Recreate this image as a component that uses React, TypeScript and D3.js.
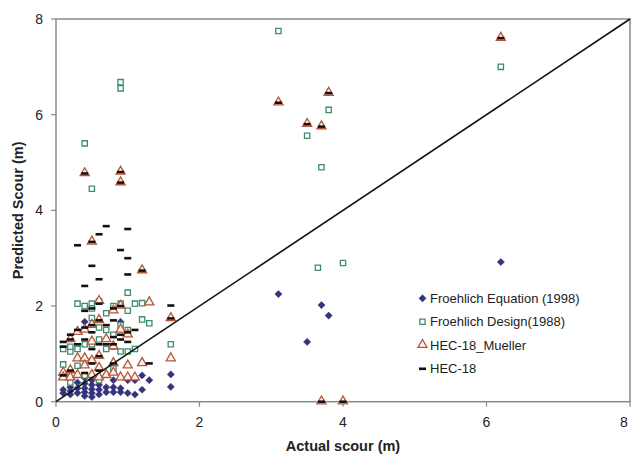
import React from "react";
import * as d3 from "d3";

const xTicks = [0, 2, 4, 6, 8];
const yTicks = [0, 2, 4, 6, 8];

const froehlichEquation: [number, number][] = [
  [0.1, 0.18], [0.1, 0.25], [0.2, 0.15], [0.2, 0.22], [0.2, 0.3], [0.3, 0.18], [0.3, 0.28], [0.3, 0.4],
  [0.4, 0.12], [0.4, 0.2], [0.4, 0.28], [0.4, 0.38], [0.4, 0.5], [0.4, 1.67], [0.5, 0.1], [0.5, 0.18],
  [0.5, 0.26], [0.5, 0.35], [0.5, 0.45], [0.5, 0.55], [0.6, 0.15], [0.6, 0.25], [0.6, 0.35], [0.6, 0.5],
  [0.7, 0.2], [0.7, 0.3], [0.8, 0.2], [0.8, 0.3], [0.8, 0.45], [0.9, 0.2], [0.9, 0.28], [0.9, 1.67],
  [1.0, 0.18], [1.0, 0.45], [1.1, 0.15], [1.1, 0.45], [1.2, 0.25], [1.2, 0.55], [1.3, 0.45],
  [1.6, 0.31], [1.6, 0.57],
  [3.1, 2.25], [3.5, 1.25], [3.7, 2.02], [3.8, 1.8], [6.2, 2.92],
];

const froehlichDesign: [number, number][] = [
  [0.1, 1.1], [0.1, 0.78], [0.2, 1.05], [0.2, 1.15], [0.2, 0.4], [0.3, 2.05], [0.3, 1.1], [0.3, 0.75],
  [0.4, 2.0], [0.4, 1.2], [0.4, 0.55], [0.4, 5.4], [0.5, 2.05], [0.5, 1.95], [0.5, 1.75], [0.5, 1.2],
  [0.5, 0.85], [0.5, 4.45], [0.6, 2.1], [0.6, 1.55], [0.6, 1.3], [0.6, 0.45], [0.7, 1.85], [0.7, 1.5],
  [0.7, 1.1], [0.8, 2.0], [0.8, 1.4], [0.8, 1.15], [0.8, 0.7], [0.9, 2.05], [0.9, 1.6], [0.9, 1.05],
  [0.9, 6.55], [0.9, 6.68], [1.0, 2.28], [1.0, 1.9], [1.0, 1.5], [1.0, 1.05], [1.1, 2.05], [1.1, 1.1],
  [1.2, 2.06], [1.2, 1.72], [1.3, 1.64], [1.6, 1.2],
  [3.1, 7.75], [3.5, 5.56], [3.8, 6.1], [3.7, 4.9], [3.65, 2.8], [4.0, 2.9], [6.2, 7.0],
];

const hecMueller: [number, number][] = [
  [0.1, 0.6], [0.1, 0.5], [0.2, 0.65], [0.2, 0.5], [0.2, 1.3], [0.3, 1.45], [0.3, 0.55], [0.3, 0.9],
  [0.4, 1.5], [0.4, 0.9], [0.4, 0.75], [0.4, 4.77], [0.5, 1.6], [0.5, 1.25], [0.5, 0.85], [0.5, 0.55],
  [0.5, 3.34], [0.6, 2.1], [0.6, 1.7], [0.6, 0.95], [0.6, 0.7], [0.6, 0.5], [0.7, 1.3], [0.7, 0.55],
  [0.8, 1.9], [0.8, 1.15], [0.8, 0.8], [0.8, 0.6], [0.9, 2.0], [0.9, 1.5], [0.9, 0.5], [0.9, 4.8],
  [0.9, 4.58], [1.0, 1.4], [1.0, 0.75], [1.0, 0.5], [1.1, 0.5], [1.2, 0.8], [1.2, 2.74], [1.3, 2.07],
  [1.6, 1.74], [1.6, 0.9],
  [3.1, 6.25], [3.8, 6.45], [3.5, 5.8], [3.7, 5.75], [6.2, 7.6], [3.7, 0], [4.0, 0],
];

const hec18: [number, number][] = [
  [0.1, 1.25], [0.1, 1.15], [0.1, 0.55], [0.2, 1.4], [0.2, 1.3], [0.2, 0.65], [0.3, 1.5], [0.3, 1.2],
  [0.3, 3.27], [0.4, 1.9], [0.4, 1.55], [0.4, 1.3], [0.4, 0.6], [0.4, 2.42], [0.4, 4.77], [0.5, 1.95],
  [0.5, 1.6], [0.5, 1.45], [0.5, 1.1], [0.5, 0.8], [0.5, 2.84], [0.5, 3.34], [0.6, 2.05], [0.6, 1.7],
  [0.6, 1.2], [0.6, 0.95], [0.6, 0.65], [0.6, 2.56], [0.6, 3.5], [0.7, 1.6], [0.7, 1.2], [0.7, 3.67],
  [0.8, 1.95], [0.8, 1.7], [0.8, 1.35], [0.8, 1.2], [0.8, 0.8], [0.9, 2.0], [0.9, 1.4], [0.9, 1.3],
  [0.9, 3.17], [0.9, 4.8], [0.9, 4.58], [1.0, 1.45], [1.0, 1.25], [1.0, 3.0], [1.0, 2.66], [1.0, 3.61],
  [1.1, 1.5], [1.2, 2.74], [1.3, 0.8], [1.6, 2.01], [1.6, 1.74],
  [3.1, 6.25], [3.8, 6.45], [3.5, 5.8], [3.7, 5.75], [6.2, 7.6], [3.7, 0], [4.0, 0],
];

const seriesNames = ["Froehlich Equation (1998)", "Froehlich Design(1988)", "HEC-18_Mueller", "HEC-18"];

const W = 631, H = 463;
const M = { left: 56, right: 630, top: 19, bottom: 401.7 };
const FONT = "Liberation Sans, Arial, sans-serif";
const AXIS = "#8a8a8a";
const C_DIA = "#34347c";
const C_SQ = "#3f8c6e";
const C_TRI = "#b5563b";

const x = d3.scaleLinear().domain([0, 8]).range([M.left, M.right]);
const y = d3.scaleLinear().domain([0, 8]).range([M.bottom, M.top]);

const diamondPath = "M0,-3.6L3.6,0L0,3.6L-3.6,0Z";
const squarePath = d3.symbol().type(d3.symbolSquare).size(28)()!;
const trianglePath = d3.symbol().type(d3.symbolTriangle).size(36)()!;

const Diamond = ({ cx, cy }: { cx: number; cy: number }) => (
  <path d={diamondPath} transform={`translate(${cx},${cy})`} fill={C_DIA} stroke={C_DIA} strokeWidth={0.5} />
);
const Square = ({ cx, cy }: { cx: number; cy: number }) => (
  <path d={squarePath} transform={`translate(${cx},${cy})`} fill="#ffffff" stroke={C_SQ} strokeWidth={1.3} />
);
const Triangle = ({ cx, cy }: { cx: number; cy: number }) => (
  <path d={trianglePath} transform={`translate(${cx},${cy - 0.5})`} fill="#fff4ee" stroke={C_TRI} strokeWidth={1.3} />
);
const Dash = ({ cx, cy }: { cx: number; cy: number }) => (
  <rect x={cx - 3.5} y={cy - 1.3} width={7} height={2.6} fill="#111111" />
);

export default function App() {
  const legendX = 422.5;
  const legendY0 = 298.3;
  const legendDy = 23.5;
  const markers = [Diamond, Square, Triangle, Dash];
  return (
    <svg width={W} height={H} style={{ position: "absolute", left: 0, top: 0, background: "#ffffff" }} fontFamily={FONT}>
      <rect x={0} y={0} width={W} height={H} fill="#ffffff" />
      <rect x={M.left} y={M.top} width={M.right - M.left} height={M.bottom - M.top} fill="none" stroke={AXIS} strokeWidth={1.5} />
      {yTicks.map((t) => (
        <g key={"y" + t}>
          <line x1={M.left - 5} x2={M.left} y1={y(t)} y2={y(t)} stroke={AXIS} strokeWidth={1.2} />
          <text x={M.left - 13} y={y(t) + 5} textAnchor="end" fontSize={14} fill="#222">{t}</text>
        </g>
      ))}
      {xTicks.map((t) => (
        <g key={"x" + t}>
          <line x1={x(t)} x2={x(t)} y1={M.bottom} y2={M.bottom + 5} stroke={AXIS} strokeWidth={1.2} />
          <text x={Math.min(x(t), 624)} y={M.bottom + 25} textAnchor="middle" fontSize={14} fill="#222">{t}</text>
        </g>
      ))}
      <g>{froehlichEquation.map(([a, b], i) => <Diamond key={i} cx={x(a)} cy={y(b)} />)}</g>
      <g>{froehlichDesign.map(([a, b], i) => <Square key={i} cx={x(a)} cy={y(b)} />)}</g>
      <g>{hecMueller.map(([a, b], i) => <Triangle key={i} cx={x(a)} cy={y(b)} />)}</g>
      <g>{hec18.map(([a, b], i) => <Dash key={i} cx={x(a)} cy={y(b)} />)}</g>
      <line x1={x(0)} y1={y(0)} x2={x(8)} y2={y(8)} stroke="#111111" strokeWidth={1.6} />
      {seriesNames.map((n, i) => {
        const Mk = markers[i];
        const ly = legendY0 + i * legendDy;
        return (
          <g key={n}>
            <Mk cx={legendX} cy={ly} />
            <text x={legendX + 7.5} y={ly + 4.6} fontSize={13} fill="#222">{n}</text>
          </g>
        );
      })}
      <text x={(M.left + M.right) / 2} y={451} textAnchor="middle" fontSize={14.5} fontWeight="bold" fill="#222">Actual scour (m)</text>
      <text transform={`translate(23,${(M.top + M.bottom) / 2}) rotate(-90)`} textAnchor="middle" fontSize={14.5} fontWeight="bold" fill="#222">Predicted Scour (m)</text>
    </svg>
  );
}
